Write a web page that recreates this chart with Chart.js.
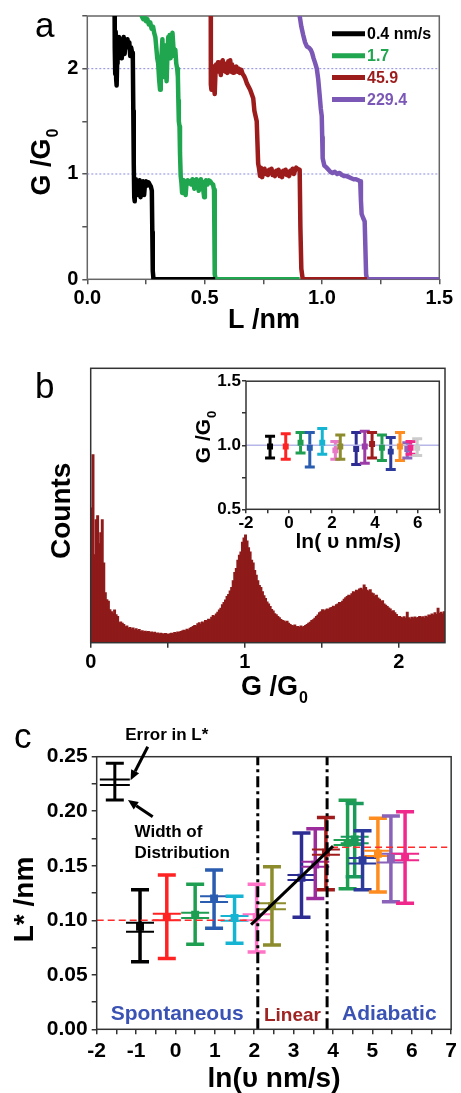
<!DOCTYPE html>
<html><head><meta charset="utf-8">
<script src="https://cdn.jsdelivr.net/npm/chart.js@4.4.1/dist/chart.umd.min.js"></script>
<style>
html,body{margin:0;padding:0;background:#fff;}
#wrap{position:relative;width:461px;height:1093px;overflow:hidden;background:#fff;}
canvas{position:absolute;}
</style></head><body>
<div id="wrap">
<canvas id="ca" width="461" height="330" style="left:0;top:0"></canvas>
<canvas id="cb" width="461" height="380" style="left:0;top:330px"></canvas>
<canvas id="cbi" width="281" height="200" style="left:180px;top:370px"></canvas>
<canvas id="cc" width="461" height="393" style="left:0;top:700px"></canvas>
</div>
<script>
// ---------------- Panel a data ----------------
const speedLabels = ['0.4 nm/s', '1.7', '45.9', '229.4'];
const traceColors = ['#000000', '#1fa64e', '#9c1b1b', '#7b58b6'];
const trace04 = [[0.116,2.7],[0.117,2.2],[0.119,1.95],[0.121,2.35],[0.123,1.9],[0.125,1.84],[0.127,2.05],[0.129,2.28],[0.132,2.12],[0.135,2.3],[0.138,2.15],[0.141,2.25],[0.144,2.1],[0.147,2.28],[0.151,2.2],[0.155,2.3],[0.159,2.14],[0.163,2.26],[0.167,2.2],[0.171,2.28],[0.175,2.22],[0.179,2.25],[0.183,2.12],[0.187,2.2],[0.191,2.15],[0.194,2.1],[0.196,1.6],[0.198,1.1],[0.2,0.78],[0.202,0.74],[0.204,0.92],[0.207,0.95],[0.21,0.88],[0.213,0.93],[0.216,0.8],[0.219,0.9],[0.223,0.94],[0.227,0.78],[0.23,0.92],[0.234,0.86],[0.238,0.93],[0.242,0.8],[0.246,0.91],[0.251,0.93],[0.256,0.89],[0.261,0.92],[0.266,0.9],[0.271,0.88],[0.275,0.84],[0.277,0.45],[0.279,0.08],[0.282,0],[0.545,0]];
const trace17 = [[0.228,2.7],[0.232,2.5],[0.238,2.47],[0.244,2.5],[0.25,2.45],[0.256,2.47],[0.262,2.42],[0.268,2.44],[0.274,2.38],[0.28,2.4],[0.285,2.34],[0.29,2.3],[0.294,2.2],[0.298,2.1],[0.302,2.05],[0.306,1.9],[0.31,1.8],[0.313,2.0],[0.317,2.15],[0.32,2.28],[0.323,2.05],[0.326,1.92],[0.329,2.1],[0.332,2.22],[0.335,2.02],[0.338,1.88],[0.341,2.1],[0.345,2.3],[0.348,2.15],[0.351,2.32],[0.355,2.1],[0.359,2.26],[0.363,2.34],[0.367,2.2],[0.371,2.12],[0.375,2.18],[0.379,2.05],[0.383,2.0],[0.386,1.92],[0.388,1.7],[0.39,1.5],[0.393,1.45],[0.395,1.2],[0.398,0.98],[0.401,0.92],[0.404,0.82],[0.407,0.9],[0.411,0.94],[0.415,0.88],[0.419,0.8],[0.423,0.92],[0.428,0.94],[0.433,0.91],[0.438,0.93],[0.443,0.9],[0.448,0.95],[0.452,0.92],[0.456,0.86],[0.46,0.93],[0.465,0.95],[0.47,0.9],[0.475,0.84],[0.479,0.93],[0.484,0.95],[0.489,0.91],[0.494,0.85],[0.498,0.78],[0.501,0.92],[0.506,0.94],[0.512,0.9],[0.518,0.94],[0.524,0.93],[0.53,0.91],[0.536,0.9],[0.54,0.85],[0.542,0.4],[0.544,0.05],[0.547,0],[0.905,0]];
const trace459 = [[0.526,2.7],[0.526,2.2],[0.527,1.85],[0.529,1.8],[0.531,2.0],[0.534,1.9],[0.537,2.02],[0.54,1.82],[0.543,1.76],[0.546,1.95],[0.549,2.04],[0.553,1.98],[0.557,2.06],[0.561,1.97],[0.565,2.02],[0.569,1.94],[0.573,2.05],[0.577,2.08],[0.581,1.98],[0.585,2.05],[0.589,1.97],[0.593,2.02],[0.597,1.96],[0.601,2.07],[0.605,2.0],[0.609,2.08],[0.613,1.97],[0.617,2.04],[0.621,1.96],[0.625,2.0],[0.63,1.98],[0.635,2.02],[0.64,1.97],[0.645,2.0],[0.65,1.96],[0.656,1.99],[0.662,1.95],[0.668,1.93],[0.674,1.9],[0.68,1.86],[0.694,1.8],[0.707,1.72],[0.712,1.6],[0.716,1.56],[0.722,1.5],[0.725,1.3],[0.728,1.1],[0.732,1.05],[0.736,0.98],[0.74,1.06],[0.745,0.97],[0.75,1.02],[0.755,1.05],[0.76,1.0],[0.765,1.03],[0.77,0.99],[0.775,1.04],[0.78,1.01],[0.785,1.05],[0.79,0.99],[0.795,1.02],[0.8,0.98],[0.805,1.03],[0.81,1.0],[0.815,1.04],[0.82,0.98],[0.825,1.02],[0.83,0.97],[0.835,1.03],[0.84,1.0],[0.845,1.04],[0.85,0.99],[0.855,1.02],[0.86,0.98],[0.865,1.03],[0.87,1.01],[0.875,1.05],[0.88,1.0],[0.885,1.03],[0.89,1.06],[0.895,1.05],[0.905,1.04],[0.908,0.5],[0.912,0.1],[0.918,0],[1.192,0]];
const trace2294 = [[0.897,2.7],[0.905,2.5],[0.912,2.4],[0.92,2.32],[0.928,2.25],[0.936,2.21],[0.944,2.2],[0.952,2.18],[0.958,2.15],[0.964,2.1],[0.97,2.06],[0.978,2.0],[0.984,1.9],[0.99,1.75],[0.995,1.62],[0.999,1.55],[1.001,1.35],[1.003,1.15],[1.01,1.08],[1.02,1.06],[1.028,1.04],[1.036,1.02],[1.045,1.01],[1.055,1.02],[1.065,1.0],[1.075,1.01],[1.085,0.99],[1.095,0.98],[1.105,0.98],[1.115,0.97],[1.125,0.96],[1.135,0.95],[1.145,0.95],[1.155,0.94],[1.163,0.93],[1.166,0.75],[1.169,0.62],[1.176,0.58],[1.182,0.55],[1.185,0.3],[1.188,0.05],[1.192,0],[1.5,0]];
const plateauLevels = [1, 2];

// ---------------- Panel b data ----------------
const binStart = 0, binWidth = 0.01;
const counts = [
490,684,320,447,462,360,400,447,290,181,
156,150,119,112,105,118,101,95,72,75,
70,66,57,60,52,55,49,53,46,50,
44,47,40,43,38,41,36,40,35,38,
34,37,33,35,31,34,32,30,33,31,
29,32,34,31,36,34,38,36,40,42,
45,43,48,46,52,55,58,62,60,68,
72,66,75,70,80,78,85,83,92,98,
95,104,110,118,125,138,146,155,168,175,
188,200,225,255,270,300,318,330,365,381,
392,370,345,330,300,290,262,245,225,208,
200,185,170,160,148,140,131,120,115,105,
101,95,90,84,80,78,74,77,70,66,
62,60,64,57,58,55,60,56,58,62,
66,70,74,80,83,88,95,100,108,112,
119,113,118,122,120,126,128,132,130,138,
140,146,144,150,158,163,168,172,170,178,
185,182,190,188,195,198,192,210,200,190,
186,192,180,178,168,172,162,158,149,152,
140,136,131,126,122,113,116,108,102,95,
95,92,89,94,88,110,90,86,92,89,
93,88,91,95,90,94,88,96,92,100,
98,104,100,108,102,125,106,110,104,112];
// inset
const insetX  = [-0.88,-0.15,0.54,0.97,1.55,2.16,2.39,3.13,3.53,3.87,4.33,4.74,5.17,5.51,5.66,5.97];
const insetG  = [0.99,0.99,1.02,0.98,1.02,0.96,0.99,0.97,0.99,1.01,0.98,0.95,0.99,0.97,0.98,0.98];
const insetLo = [0.90,0.89,0.94,0.83,0.93,0.89,0.89,0.85,0.86,0.90,0.88,0.81,0.88,0.90,0.93,0.92];
const insetHi = [1.07,1.09,1.10,1.10,1.13,1.03,1.08,1.10,1.11,1.10,1.08,1.06,1.10,1.02,1.03,1.05];
const insetColors = ['#000000','#ff2222','#1e9e50','#2a5cb0','#14b4d2','#e878c8','#8c8c2e','#2c2c92','#9c3ca8','#a01c1c','#1e9e50','#2c3a9c','#ff8c1e','#8a66bc','#f0288c','#cccccc'];
const insetRef = 1.0;

// ---------------- Panel c data ----------------
const cX      = [-0.9,-0.22,0.5,0.98,1.5,2.06,2.45,3.2,3.55,3.82,4.37,4.55,4.75,5.14,5.47,5.83];
const cL      = [0.094,0.103,0.105,0.120,0.102,0.103,0.113,0.139,0.151,0.162,0.171,0.174,0.155,0.161,0.157,0.158];
const cWidLo  = [0.062,0.065,0.078,0.0926,0.079,0.071,0.0773,0.1027,0.120,0.128,0.129,0.140,0.128,0.126,0.117,0.1155];
const cWidHi  = [0.128,0.1415,0.133,0.146,0.122,0.133,0.149,0.180,0.184,0.1943,0.210,0.207,0.182,0.1935,0.1956,0.1995];
const cErrLo  = [0.0895,0.100,0.102,0.1167,0.0996,0.100,0.110,0.137,0.149,0.160,0.169,0.1706,0.152,0.159,0.153,0.155];
const cErrHi  = [0.0978,0.106,0.107,0.122,0.104,0.1055,0.1155,0.1415,0.1537,0.165,0.1735,0.1766,0.157,0.1638,0.161,0.161];
const cColors = ['#000000','#ff2222','#1e9e50','#2a5cb0','#14b4d2','#ff74c6','#8c8c2e','#2c2c92','#9c2c9c','#a01c1c','#1e9e50','#1a9a5a','#2c3a9c','#ff8c1e','#8a62b8','#f0288c'];
const regionBounds = [2.09, 3.85];
const plateauSpont = 0.100, plateauAdiab = 0.167;
const spontRange = [-2, 2.0], adiabRange = [3.95, 6.9];
const linearFit = [[1.92, 0.096], [4.0, 0.168]];
const regionLabels = ['Spontaneous', 'Linear', 'Adiabatic'];
const regionLabelX = [0.043, 2.97, 5.43];
const regionLabelY = [0.0085, 0.0075, 0.0085];
const regionLabelColors = ['#3a52b4', '#a02424', '#3a52b4'];
const keyBarX = -1.54, keyOuter = [0.2102, 0.2439], keyInner = [0.224, 0.2292];
const keyArrows = [[-0.704, 0.2591, -1.14, 0.2285], [-0.578, 0.1949, -1.206, 0.2102]];

// ---------------- helpers ----------------
const FF = 'Arial, "Liberation Sans", Helvetica, sans-serif';
Chart.defaults.font.family = FF;
Chart.defaults.color = '#000';
Chart.defaults.animation = false;
const isMult = (v, s) => Math.abs(v / s - Math.round(v / s)) < 1e-6;
function gridOpts(color) { return {drawOnChartArea: false, drawTicks: true, tickLength: 5, color: color || '#333', lineWidth: 1.5}; }
function subText(ctx, x, y, main, sub, size, rotated) {
  ctx.save();
  ctx.translate(x, y);
  if (rotated) ctx.rotate(-Math.PI / 2);
  ctx.fillStyle = '#000';
  ctx.textBaseline = 'alphabetic'; ctx.textAlign = 'left';
  ctx.font = 'bold ' + size + 'px ' + FF;
  const w1 = ctx.measureText(main).width;
  const ss = Math.round(size * 0.6);
  ctx.font = 'bold ' + ss + 'px ' + FF;
  const w2 = sub ? ctx.measureText(sub).width : 0;
  const tot = w1 + w2;
  ctx.font = 'bold ' + size + 'px ' + FF;
  ctx.fillText(main, -tot / 2, 0);
  if (sub) { ctx.font = 'bold ' + ss + 'px ' + FF; ctx.fillText(sub, -tot / 2 + w1 + 1, size * 0.3); }
  ctx.restore();
}
function letter(ctx, t, x, y) {
  ctx.save(); ctx.fillStyle = '#000'; ctx.font = '35px ' + FF; ctx.textAlign = 'left'; ctx.textBaseline = 'alphabetic';
  ctx.fillText(t, x, y); ctx.restore();
}
function frame(ctx, a, color, lw) {
  ctx.save(); ctx.strokeStyle = color; ctx.lineWidth = lw;
  ctx.strokeRect(a.left, a.top, a.right - a.left, a.bottom - a.top); ctx.restore();
}
function errBar(ctx, xs, ys, x, lo, hi, color, lw, capW, capLw) {
  const px = xs.getPixelForValue(x), p1 = ys.getPixelForValue(lo), p2 = ys.getPixelForValue(hi);
  ctx.save(); ctx.strokeStyle = color; ctx.lineWidth = lw; ctx.lineCap = 'butt';
  ctx.beginPath(); ctx.moveTo(px, p1); ctx.lineTo(px, p2); ctx.stroke();
  ctx.lineWidth = capLw || lw;
  ctx.beginPath();
  ctx.moveTo(px - capW / 2, p1); ctx.lineTo(px + capW / 2, p1);
  ctx.moveTo(px - capW / 2, p2); ctx.lineTo(px + capW / 2, p2);
  ctx.stroke(); ctx.restore();
}
function caps(ctx, xs, ys, x, vals, color, lw, capW) {
  const px = xs.getPixelForValue(x);
  ctx.save(); ctx.strokeStyle = color; ctx.lineWidth = lw; ctx.beginPath();
  vals.forEach(v => { const py = ys.getPixelForValue(v); ctx.moveTo(px - capW / 2, py); ctx.lineTo(px + capW / 2, py); });
  ctx.stroke(); ctx.restore();
}
function arrow(ctx, x1, y1, x2, y2, lw, head) {
  const ang = Math.atan2(y2 - y1, x2 - x1);
  const bx = x2 - head * Math.cos(ang), by = y2 - head * Math.sin(ang);
  ctx.save(); ctx.strokeStyle = '#000'; ctx.fillStyle = '#000'; ctx.lineWidth = lw;
  ctx.beginPath(); ctx.moveTo(x1, y1); ctx.lineTo(bx, by); ctx.stroke();
  ctx.beginPath(); ctx.moveTo(x2, y2);
  ctx.lineTo(bx + 4.5 * Math.sin(ang), by - 4.5 * Math.cos(ang));
  ctx.lineTo(bx - 4.5 * Math.sin(ang), by + 4.5 * Math.cos(ang));
  ctx.closePath(); ctx.fill(); ctx.restore();
}
const noLegend = {legend: {display: false}, tooltip: {enabled: false}};

// ---------------- Panel a ----------------
const dsA = [trace04, trace17, trace459, trace2294].map((tr, i) => ({
  label: speedLabels[i], data: tr.map(p => ({x: p[0], y: p[1]})),
  borderColor: traceColors[i], borderWidth: 4.5, pointRadius: 0, tension: 0,
  borderJoinStyle: 'round', borderCapStyle: 'butt', clip: 0, order: 1
}));
plateauLevels.forEach(g => dsA.push({label: '', data: [{x: 0, y: g}, {x: 1.5, y: g}], borderColor: '#8a8ae0', borderWidth: 1, borderDash: [2, 2], pointRadius: 0, order: 5}));
new Chart(document.getElementById('ca'), {
  type: 'line', data: {datasets: dsA},
  options: {
    responsive: false, devicePixelRatio: 1, animation: false,
    layout: {padding: {left: 0, top: 13.5, right: 21.7, bottom: 0}},
    plugins: noLegend,
    scales: {
      x: {type: 'linear', min: 0, max: 1.5, afterFit(s) { s.height = 50.7; }, border: {display: false}, grid: gridOpts('#555'),
          ticks: {stepSize: 0.25, autoSkip: false, maxRotation: 0, padding: 2, font: {size: 20, weight: 'bold'}, callback: v => isMult(v, 0.5) ? v.toFixed(1) : ''}},
      y: {type: 'linear', min: 0, max: 2.5, afterFit(s) { s.width = 87.3; }, border: {display: false}, grid: gridOpts('#555'),
          ticks: {stepSize: 0.5, autoSkip: false, padding: 4, font: {size: 20, weight: 'bold'}, callback: v => isMult(v, 1) ? String(Math.round(v)) : ''}}
    }
  },
  plugins: [{
    id: 'decoA',
    beforeDatasetsDraw(chart) { frame(chart.ctx, chart.chartArea, '#666', 1.5); },
    afterDraw(chart) {
      const ctx = chart.ctx;
      chart.data.datasets.forEach((d, i) => {
        if (!d.label) return;
        const yb = 39.3 + i * 21.9;
        ctx.save(); ctx.strokeStyle = d.borderColor; ctx.lineWidth = 5;
        ctx.beginPath(); ctx.moveTo(332, yb - 5.5); ctx.lineTo(365, yb - 5.5); ctx.stroke();
        ctx.fillStyle = d.borderColor; ctx.font = 'bold 16px ' + FF; ctx.textBaseline = 'alphabetic'; ctx.textAlign = 'left';
        ctx.fillText(d.label, 367, yb); ctx.restore();
      });
      subText(ctx, 50, 162.5, 'G /G', '0', 27, true);
      subText(ctx, 264, 328, 'L /nm', '', 27, false);
      letter(ctx, 'a', 35, 37);
    }
  }]
});

// ---------------- Panel b ----------------
new Chart(document.getElementById('cb'), {
  type: 'bar',
  data: {datasets: [{data: counts.map((c, i) => ({x: binStart + binWidth * (i + 0.5), y: c})), backgroundColor: '#8e1a1a', borderWidth: 0, inflateAmount: 0.7, barPercentage: 1, categoryPercentage: 1}]},
  options: {
    responsive: false, devicePixelRatio: 1, animation: false,
    layout: {padding: {left: 90.7, top: 38.3, right: 16, bottom: 0}},
    plugins: noLegend,
    scales: {
      x: {type: 'linear', min: 0, max: 2.3, offset: false, afterFit(s) { s.height = 67.3; }, border: {display: false},
          grid: Object.assign(gridOpts('#333'), {offset: false}),
          ticks: {stepSize: 0.5, includeBounds: false, autoSkip: false, maxRotation: 0, padding: 3, font: {size: 20, weight: 'bold'}, callback: v => isMult(v, 1) ? String(Math.round(v)) : ''}},
      y: {display: false, min: 0, max: 1000}
    }
  },
  plugins: [{
    id: 'decoB',
    afterDraw(chart) {
      const ctx = chart.ctx;
      frame(ctx, chart.chartArea, '#333', 1.5);
      subText(ctx, 70, 180.8, 'Counts', '', 28, true);
      subText(ctx, 274, 365, 'G /G', '0', 27, false);
      letter(ctx, 'b', 35, 68.3);
    }
  }]
});

// inset
new Chart(document.getElementById('cbi'), {
  type: 'scatter',
  data: {datasets: [
    {data: insetX.map((x, i) => ({x: x, y: insetG[i]})), pointStyle: 'rect', pointRadius: 4.2, pointBackgroundColor: insetColors, pointBorderWidth: 0, order: 1},
    {data: [{x: -2, y: insetRef}, {x: 7, y: insetRef}], showLine: true, borderColor: '#b6b6e8', borderWidth: 1.5, pointRadius: 0, order: 5}
  ]},
  options: {
    responsive: false, devicePixelRatio: 1, animation: false,
    layout: {padding: {left: 0, top: 10, right: 21.7, bottom: 0}},
    plugins: noLegend,
    scales: {
      x: {type: 'linear', min: -2, max: 7, afterFit(s) { s.height = 60.7; }, border: {display: false}, grid: Object.assign(gridOpts('#333'), {tickLength: 4}),
          ticks: {stepSize: 1, autoSkip: false, maxRotation: 0, padding: 0, font: {size: 17, weight: 'bold'}, callback: v => isMult(v, 2) ? String(Math.round(v)) : ''}},
      y: {type: 'linear', min: 0.5, max: 1.5, afterFit(s) { s.width = 66; }, border: {display: false}, grid: Object.assign(gridOpts('#333'), {tickLength: 4}),
          ticks: {stepSize: 0.25, autoSkip: false, padding: 1, font: {size: 17, weight: 'bold'}, callback: v => isMult(v, 0.5) ? v.toFixed(1) : ''}}
    }
  },
  plugins: [{
    id: 'decoBi',
    beforeDatasetsDraw(chart) {
      const ctx = chart.ctx, xs = chart.scales.x, ys = chart.scales.y;
      insetX.forEach((x, i) => errBar(ctx, xs, ys, x, insetLo[i], insetHi[i], insetColors[i], 3, 10, 3));
    },
    afterDraw(chart) {
      const ctx = chart.ctx;
      frame(ctx, chart.chartArea, '#333', 1.5);
      subText(ctx, 30, 67.5, 'G /G', '0', 21, true);
      subText(ctx, 168.3, 178.3, 'ln( \u03c5 nm/s)', '', 21, false);
    }
  }]
});

// ---------------- Panel c ----------------
const dsC = [
  {data: cX.map((x, i) => ({x: x, y: cL[i]})), pointStyle: 'rect', pointRadius: 5.6, pointBackgroundColor: cColors, pointBorderWidth: 0, order: 2}
];
regionBounds.forEach(b => dsC.push({data: [{x: b, y: 0}, {x: b, y: 0.25}], showLine: true, borderColor: '#000', borderWidth: 3, borderDash: [11, 4, 3, 4], pointRadius: 0, order: 1}));
dsC.push({data: [{x: spontRange[0], y: plateauSpont}, {x: spontRange[1], y: plateauSpont}], showLine: true, borderColor: '#ff2a2a', borderWidth: 1.6, borderDash: [7, 4], pointRadius: 0, order: 3});
dsC.push({data: [{x: adiabRange[0], y: plateauAdiab}, {x: adiabRange[1], y: plateauAdiab}], showLine: true, borderColor: '#ff2a2a', borderWidth: 1.6, borderDash: [7, 4], pointRadius: 0, order: 3});
dsC.push({data: linearFit.map(p => ({x: p[0], y: p[1]})), showLine: true, borderColor: '#000', borderWidth: 3, pointRadius: 0, order: 1});

new Chart(document.getElementById('cc'), {
  type: 'scatter', data: {datasets: dsC},
  options: {
    responsive: false, devicePixelRatio: 1, animation: false,
    layout: {padding: {left: 0, top: 56.7, right: 6, bottom: 0}},
    plugins: noLegend,
    scales: {
      x: {type: 'linear', min: -2, max: 7, afterFit(s) { s.height = 63.7; }, border: {display: false}, grid: gridOpts('#333'),
          ticks: {stepSize: 0.5, autoSkip: false, maxRotation: 0, padding: 4, font: {size: 21, weight: 'bold'}, callback: v => isMult(v, 1) ? String(Math.round(v)) : ''}},
      y: {type: 'linear', min: 0, max: 0.25, afterFit(s) { s.width = 96.7; }, border: {display: false}, grid: gridOpts('#333'),
          ticks: {stepSize: 0.025, autoSkip: false, padding: 4, font: {size: 21, weight: 'bold'}, callback: v => isMult(v, 0.05) ? (Math.round(v * 100) / 100).toFixed(2) : ''}}
    }
  },
  plugins: [{
    id: 'decoC',
    beforeDatasetsDraw(chart) {
      const ctx = chart.ctx, xs = chart.scales.x, ys = chart.scales.y;
      cX.forEach((x, i) => {
        errBar(ctx, xs, ys, x, cWidLo[i], cWidHi[i], cColors[i], 3.5, 18, 3.5);
        caps(ctx, xs, ys, x, [cErrLo[i], cErrHi[i]], cColors[i], 2, 28);
      });
    },
    afterDraw(chart) {
      const ctx = chart.ctx, xs = chart.scales.x, ys = chart.scales.y;
      frame(ctx, chart.chartArea, '#333', 1.5);
      errBar(ctx, xs, ys, keyBarX, keyOuter[0], keyOuter[1], '#000', 3, 18, 3);
      caps(ctx, xs, ys, keyBarX, keyInner, '#000', 2, 30);
      keyArrows.forEach(a => arrow(ctx, xs.getPixelForValue(a[0]), ys.getPixelForValue(a[1]), xs.getPixelForValue(a[2]), ys.getPixelForValue(a[3]), 3, 10));
      ctx.save(); ctx.fillStyle = '#000'; ctx.font = 'bold 17px ' + FF; ctx.textBaseline = 'alphabetic';
      ctx.textAlign = 'center'; ctx.fillText('Error in L*', xs.getPixelForValue(-0.221), ys.getPixelForValue(0.2652));
      ctx.textAlign = 'left';
      ctx.fillText('Width of', xs.getPixelForValue(-1.04), ys.getPixelForValue(0.1766));
      ctx.fillText('Distribution', xs.getPixelForValue(-1.04), ys.getPixelForValue(0.1568));
      ctx.textAlign = 'center';
      regionLabels.forEach((t, i) => {
        ctx.fillStyle = regionLabelColors[i];
        ctx.font = 'bold ' + (i === 1 ? 19 : 21) + 'px ' + FF;
        ctx.fillText(t, xs.getPixelForValue(regionLabelX[i]), ys.getPixelForValue(regionLabelY[i]));
      });
      ctx.restore();
      subText(ctx, 33.3, 199.5, 'L* /nm', '', 28, true);
      subText(ctx, 274, 387, 'ln(\u03c5 nm/s)', '', 28, false);
      letter(ctx, 'c', 14, 48.3);
    }
  }]
});
</script>
</body></html>
